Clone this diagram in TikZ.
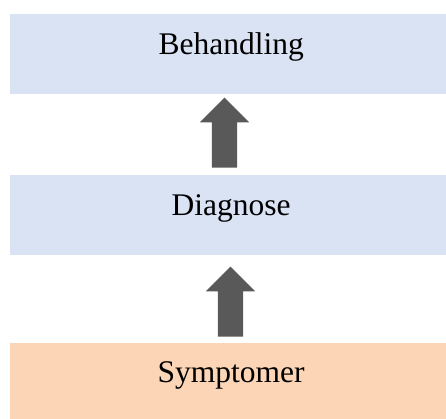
\documentclass[tikz,border=0pt]{standalone}
\usepackage{fontspec}
\setmainfont{Liberation Serif}
\usetikzlibrary{shapes.arrows}
\definecolor{boxblue}{HTML}{DAE3F3}
\definecolor{boxpeach}{HTML}{FBD5B5}
\definecolor{arrowgray}{HTML}{595959}
\begin{document}
\begin{tikzpicture}[x=1pt,y=1pt,
  stagebox/.style={rectangle, draw=none, inner xsep=0pt, inner ysep=0pt,
    minimum width=436pt, text height=40pt, text depth=39.5pt,
    font=\fontsize{31.5}{36}\selectfont, anchor=north west},
  uparrow/.style={single arrow, fill=arrowgray, draw=none, inner sep=12.5pt,
    minimum height=70pt, single arrow head extend=12pt,
    shape border rotate=90}]
\useasboundingbox (0,0) rectangle (446,419);
\node[stagebox, fill=boxblue] (beh) at (10,405) {\hspace*{6pt}Behandling};
\node[stagebox, fill=boxblue] (dia) at (10,244) {\hspace*{6pt}Diagnose};
\node[stagebox, fill=boxpeach] (sym) at (10,76.5) {\hspace*{6pt}Symptomer};
\node[uparrow] (a1) at (224.5,280) {};
\node[uparrow] (a2) at (230.5,111) {};
\end{tikzpicture}
\end{document}
